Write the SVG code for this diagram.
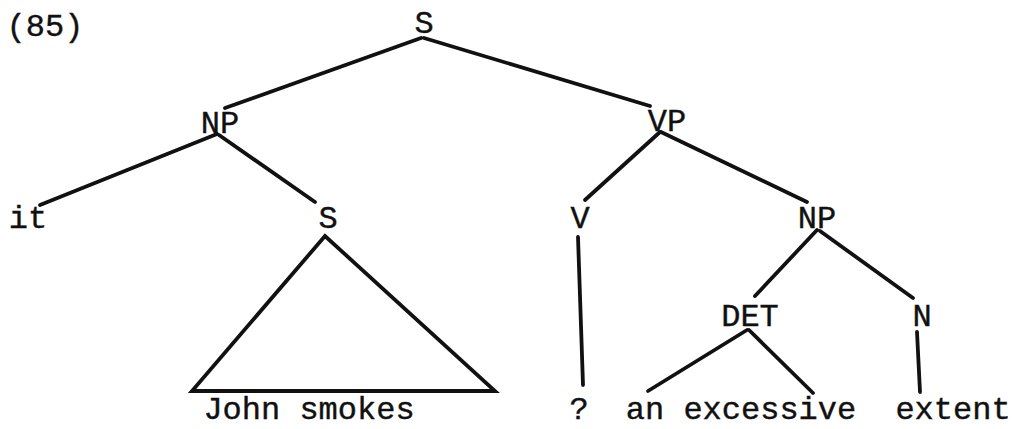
<svg xmlns="http://www.w3.org/2000/svg" width="1032" height="429" viewBox="0 0 1032 429">
<style>
text{font-family:"Liberation Mono","Courier New",monospace;font-size:32px;fill:#111;stroke:#111;stroke-width:0.4;text-anchor:middle}
.e{stroke:#111;stroke-width:3.8;stroke-linecap:round;fill:none}
</style>
<rect width="1032" height="429" fill="#fff"/>
<text x="45" y="36">(85)</text>
<g id="connectors">
<line class="e" x1="421" y1="38" x2="225" y2="108"/>
<line class="e" x1="424" y1="38" x2="650" y2="106"/>
<line class="e" x1="217" y1="134" x2="40" y2="205"/>
<line class="e" x1="219" y1="135" x2="315" y2="202"/>
<line class="e" x1="660" y1="132" x2="585" y2="200"/>
<line class="e" x1="661" y1="132" x2="807" y2="202"/>
<polygon class="e" points="325,236 192,391 495,391"/>
<line class="e" x1="578" y1="237" x2="583" y2="385"/>
<line class="e" x1="817" y1="230" x2="755" y2="296"/>
<line class="e" x1="820" y1="231" x2="913" y2="298"/>
<line class="e" x1="747" y1="330" x2="648" y2="391"/>
<line class="e" x1="749" y1="330" x2="813" y2="393"/>
<line class="e" x1="917" y1="332" x2="920" y2="392"/>
</g>
<g id="n-s"><text x="424" y="33">S</text></g>
<g id="n-np1"><text x="220" y="133">NP</text></g>
<g id="n-vp"><text x="667" y="131">VP</text></g>
<g id="n-it"><text x="28" y="228">it</text></g>
<g id="n-s2"><text x="328" y="228">S</text></g>
<g id="n-v"><text x="580" y="228">V</text></g>
<g id="n-np2"><text x="817" y="228">NP</text></g>
<g id="n-det"><text x="750" y="326">DET</text></g>
<g id="n-n"><text x="922" y="326">N</text></g>
<g id="n-john"><text x="309" y="419">John smokes</text></g>
<g id="n-q"><text x="579" y="419">?</text></g>
<g id="n-an"><text x="741" y="419">an excessive</text></g>
<g id="n-extent"><text x="953" y="419">extent</text></g>
</svg>
